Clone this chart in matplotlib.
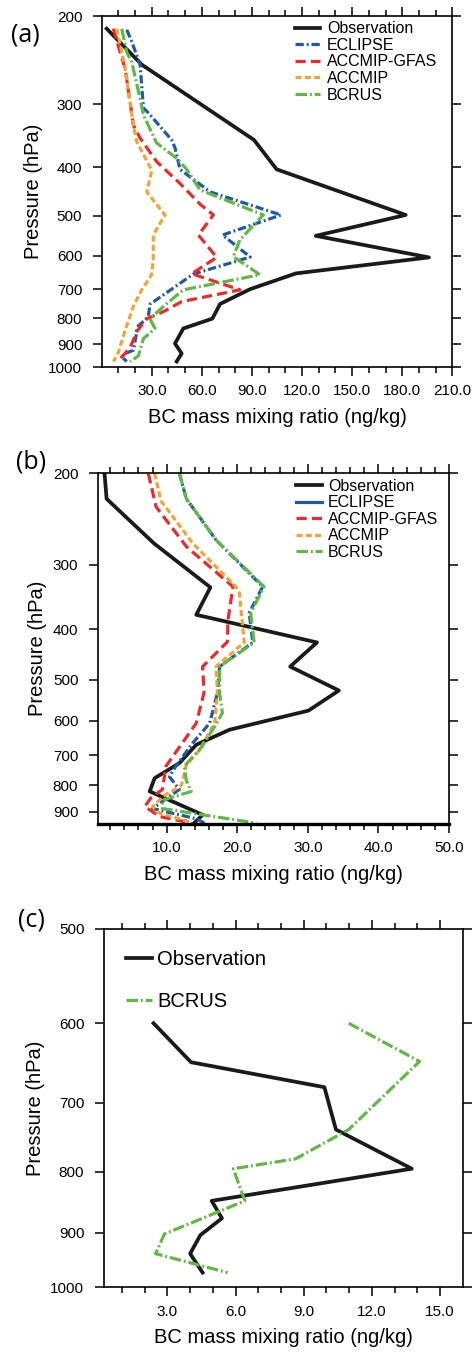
import matplotlib
matplotlib.use('Agg')
import matplotlib.pyplot as plt
from matplotlib.ticker import FixedLocator, FormatStrFormatter, NullLocator, NullFormatter

plt.rcParams['font.family'] = ['Liberation Sans', 'DejaVu Sans']

# ---- Daten (a) ----
obs_a_x = [3.0, 24.0, 91.2, 104.8, 182.1, 128.2, 196.0, 116.4, 88.8, 70.9, 66.3, 48.9, 43.9, 47.9, 44.9]
obs_a_p = [212, 250, 353, 404, 498, 548, 605, 651, 700, 749, 801, 838, 898, 940, 975]
eclipse_a_x = [15.0, 18.0, 23.0, 25.0, 28.0, 41.9, 43.9, 46.9, 64.9, 107.4, 72.4, 89.0, 54.9, 28.9, 27.9, 21.0, 20.6, 19.0, 14.0, 12.0, 15.0]
eclipse_a_p = [213, 225, 250, 305, 312, 353, 366, 404, 448, 498, 546, 604, 653, 750, 795, 834, 866, 926, 940, 955, 975]
gfas_a_x = [7.0, 11.0, 14.0, 19.0, 23.0, 32.9, 46.9, 58.9, 66.9, 57.9, 68.9, 53.9, 82.8, 47.9, 36.9, 26.9, 21.0, 17.0, 11.4, 12.5]
gfas_a_p = [212, 236, 254, 330, 350, 390, 431, 474, 498, 546, 605, 652, 702, 741, 776, 802, 850, 916, 960, 975]
accmip_a_x = [9.0, 12.0, 14.0, 19.0, 21.0, 30.0, 27.0, 37.9, 30.9, 30.9, 29.8, 24.0, 19.0, 14.0, 10.0, 7.0]
accmip_a_p = [212, 236, 254, 330, 356, 406, 448, 498, 546, 612, 656, 702, 757, 846, 935, 975]
bcrus_a_x = [12.0, 15.0, 18.0, 23.0, 25.0, 32.9, 44.9, 50.9, 58.9, 96.8, 82.8, 78.8, 94.8, 48.9, 36.9, 28.9, 31.9, 25.0, 22.0, 17.0]
bcrus_a_p = [212, 236, 247, 292, 315, 358, 384, 404, 444, 498, 558, 603, 655, 702, 758, 802, 838, 878, 950, 975]

# ---- Daten (b) ----
obs_b_x = [1.2, 1.5, 8.2, 16.2, 14.2, 31.3, 27.5, 34.4, 30.1, 18.9, 14.2, 11.8, 8.3, 7.6, 15.1, 13.9]
obs_b_p = [200, 224, 273, 332, 375, 424, 472, 525, 574, 625, 668, 725, 775, 822, 912, 946]
eclipse_b_x = [11.8, 12.8, 17.0, 23.6, 21.7, 22.2, 17.5, 17.2, 16.1, 13.7, 11.3, 10.4, 11.8, 8.0, 14.2, 15.6]
eclipse_b_p = [200, 224, 269, 331, 372, 424, 472, 530, 607, 663, 735, 770, 815, 887, 928, 950]
gfas_b_x = [7.4, 8.5, 12.8, 19.4, 18.7, 18.6, 15.1, 15.3, 14.2, 9.9, 9.4, 7.8, 6.9, 9.0, 12.5, 13.5]
gfas_b_p = [200, 232, 277, 331, 383, 423, 472, 530, 607, 735, 815, 845, 879, 919, 940, 948]
accmip_b_x = [8.3, 9.2, 13.7, 19.8, 20.3, 21.0, 17.0, 17.2, 16.8, 14.6, 12.8, 12.1, 9.5, 8.0, 9.0, 13.2]
accmip_b_p = [200, 226, 273, 331, 340, 424, 472, 530, 607, 686, 730, 800, 840, 880, 905, 940]
bcrus_b_x = [11.8, 12.8, 17.0, 23.8, 21.9, 22.4, 17.5, 17.5, 17.9, 17.0, 14.9, 12.5, 12.8, 13.5, 9.4, 9.4, 22.7]
bcrus_b_p = [200, 224, 269, 331, 372, 424, 472, 530, 580, 610, 677, 735, 785, 822, 855, 887, 946]

# ---- Daten (c) ----
obs_c_x = [2.39, 4.04, 9.91, 10.42, 13.76, 4.95, 5.4, 4.45, 4.0, 4.55]
obs_c_p = [600, 647, 679, 737, 795, 846, 875, 904, 937, 972]
bcrus_c_x = [10.98, 14.1, 10.98, 8.64, 5.9, 6.41, 2.87, 2.48, 5.65]
bcrus_c_p = [600, 646, 737, 780, 795, 846, 902, 937, 972]

# Farben / Linienstile
c_obs = '#1a1a1a'
c_ecl = '#1f5aa8'
c_gfas = '#ec2a2c'
c_acc = '#f7a232'
c_bcr = '#62b847'
ls_ecl = (0, (2.6, 0.9, 0.6, 0.9))
ls_gfas = (0, (3.2, 1.6))
ls_acc = (0, (1.9, 1.0))
ls_bcr = (0, (3.6, 0.9, 0.6, 0.9))
lw_obs = 2.7
lw_mod = 2.3

W, H = 474, 1355
fig = plt.figure(figsize=(W / 100, H / 100), dpi=100)


def achse(l, t, r, b):
    return fig.add_axes([l / W, 1 - b / H, (r - l) / W, (b - t) / H])


def formatieren(ax, ylim, yticks, xlim, xmajor, xminor):
    ax.set_yscale('log')
    ax.set_ylim(ylim[1], ylim[0])
    ax.set_xlim(*xlim)
    ax.yaxis.set_major_locator(FixedLocator(yticks))
    ax.yaxis.set_major_formatter(FormatStrFormatter('%d'))
    ax.yaxis.set_minor_locator(NullLocator())
    ax.yaxis.set_minor_formatter(NullFormatter())
    ax.xaxis.set_major_locator(FixedLocator(xmajor))
    ax.xaxis.set_major_formatter(FormatStrFormatter('%.1f'))
    ax.xaxis.set_minor_locator(FixedLocator(xminor))
    ax.tick_params(which='both', direction='out', top=True, right=True, width=1.1)
    ax.tick_params(which='major', length=6.5, labelsize=11)
    ax.tick_params(axis='x', which='major', pad=6)
    ax.tick_params(axis='y', which='major', pad=7.5)
    ax.tick_params(which='minor', length=4.5)
    for s in ax.spines.values():
        s.set_linewidth(1.2)
    ax.set_ylabel('Pressure (hPa)', fontsize=14.5, labelpad=4)
    ax.set_xlabel('BC mass mixing ratio (ng/kg)', fontsize=14.5, labelpad=7)


# ---------- (a) ----------
ax1 = achse(101.7, 16, 452.3, 367)
ax1.plot(obs_a_x, obs_a_p, color=c_obs, lw=lw_obs, label='Observation')
ax1.plot(eclipse_a_x, eclipse_a_p, color=c_ecl, lw=lw_mod, ls=ls_ecl, label='ECLIPSE')
ax1.plot(gfas_a_x, gfas_a_p, color=c_gfas, lw=lw_mod, ls=ls_gfas, label='ACCMIP-GFAS')
ax1.plot(accmip_a_x, accmip_a_p, color=c_acc, lw=lw_mod, ls=ls_acc, label='ACCMIP')
ax1.plot(bcrus_a_x, bcrus_a_p, color=c_bcr, lw=lw_mod, ls=ls_bcr, label='BCRUS')
formatieren(ax1, (200, 1000), [200, 300, 400, 500, 600, 700, 800, 900, 1000],
            (0, 210), [30, 60, 90, 120, 150, 180, 210], list(range(10, 210, 10)))
ax1.legend(loc='upper left', bbox_to_anchor=(0.551, 0.985), frameon=False, fontsize=11.5,
           handlelength=1.6, handletextpad=0.4, labelspacing=0.1, borderpad=0, borderaxespad=0)
fig.text(25 / W, 1 - 35 / H, '(a)', fontsize=18, family='Open Sans', ha='center', va='center')

# ---------- (b) ----------
ax2 = achse(97.8, 473.3, 449, 824)
ax2.plot(obs_b_x, obs_b_p, color=c_obs, lw=lw_obs, label='Observation')
ax2.plot(eclipse_b_x, eclipse_b_p, color=c_ecl, lw=lw_mod, ls=ls_ecl, label='ECLIPSE')
ax2.plot(gfas_b_x, gfas_b_p, color=c_gfas, lw=lw_mod, ls=ls_gfas, label='ACCMIP-GFAS')
ax2.plot(accmip_b_x, accmip_b_p, color=c_acc, lw=lw_mod, ls=ls_acc, label='ACCMIP')
ax2.plot(bcrus_b_x, bcrus_b_p, color=c_bcr, lw=lw_mod, ls=ls_bcr, label='BCRUS')
formatieren(ax2, (200, 950), [200, 300, 400, 500, 600, 700, 800, 900],
            (0.25, 50), [10, 20, 30, 40, 50], [x for x in range(2, 50, 2) if x % 10])
ax2.spines['bottom'].set_linewidth(2.4)
leg2 = ax2.legend(loc='upper left', bbox_to_anchor=(0.565, 0.985), frameon=False, fontsize=11.5,
                  handlelength=1.6, handletextpad=0.4, labelspacing=0.1, borderpad=0, borderaxespad=0)
leg2.legend_handles[1].set_linestyle('-')
fig.text(31 / W, 1 - 462 / H, '(b)', fontsize=18, family='Open Sans', ha='center', va='center')

# ---------- (c) ----------
ax3 = achse(103.8, 929, 462.7, 1287.3)
ax3.plot(obs_c_x, obs_c_p, color=c_obs, lw=lw_obs, label='Observation')
ax3.plot(bcrus_c_x, bcrus_c_p, color=c_bcr, lw=lw_mod, ls=ls_bcr, label='BCRUS')
formatieren(ax3, (500, 1000), [500, 600, 700, 800, 900, 1000],
            (0.2, 16), [3, 6, 9, 12, 15], [x for x in range(1, 16) if x % 3])
ax3.legend(loc='upper left', bbox_to_anchor=(0.062, 0.942), frameon=False, fontsize=14.5,
           handlelength=1.3, handletextpad=0.25, labelspacing=1.15, borderpad=0, borderaxespad=0)
fig.text(31 / W, 1 - 920 / H, '(c)', fontsize=18, family='Open Sans', ha='center', va='center')

fig.savefig('out.png', dpi=100)
